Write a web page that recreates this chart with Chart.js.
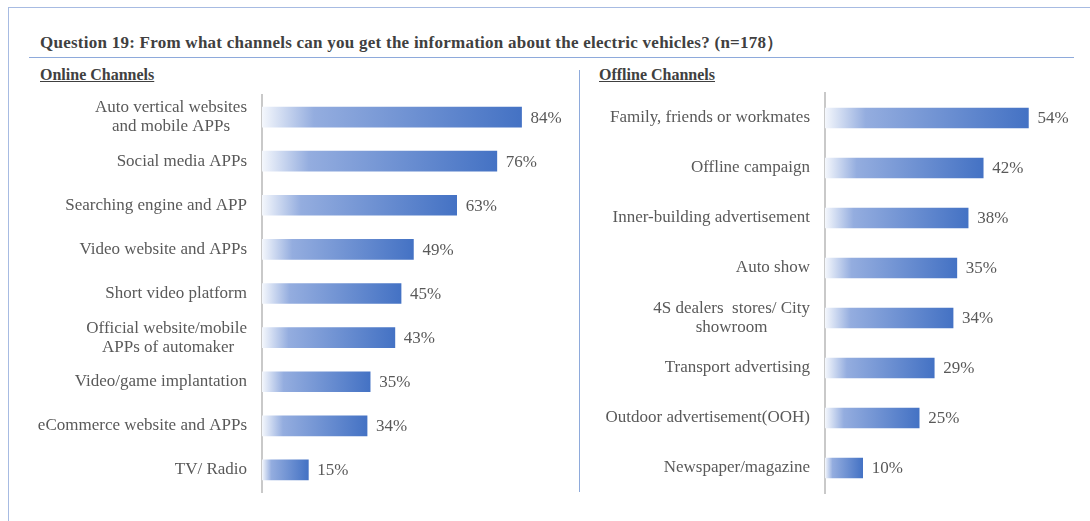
<!DOCTYPE html>
<html><head><meta charset="utf-8">
<script src="https://cdn.jsdelivr.net/npm/chart.js@4"></script>
<style>
body{margin:0;width:1090px;height:521px;background:#fff;position:relative;overflow:hidden;font-family:"Liberation Serif","Times New Roman",serif;}
#box{position:absolute;left:8px;top:7px;width:1100px;height:600px;border:1px solid #a7bbe2;}
#title{position:absolute;left:40px;top:33px;font-weight:bold;font-size:17px;line-height:20px;letter-spacing:0.25px;color:#404040;white-space:nowrap;}
#rule{position:absolute;left:29px;top:57px;width:1045px;height:0;border-top:1.5px solid #8eaadb;}
.sub{position:absolute;top:65px;font-weight:bold;font-size:16px;line-height:19px;color:#404040;text-decoration:underline;}
#sep{position:absolute;left:579px;top:70px;height:422px;border-left:1px solid #8eaadb;}
canvas{position:absolute;top:0;}
</style>
</head><body>
<div id="box"></div>
<div id="title">Question 19: From what channels can you get the information about the electric vehicles? (n=178）</div>
<div id="rule"></div>
<div class="sub" style="left:40px">Online Channels</div>
<div class="sub" style="left:599px">Offline Channels</div>
<div id="sep"></div>
<canvas id="c1" width="580" height="521" style="left:0;width:580px;height:521px"></canvas>
<canvas id="c2" width="510" height="521" style="left:580px;width:510px;height:521px"></canvas>
<script>
const onlineLabels = [
  ['Auto vertical websites', 'and mobile APPs    '],
  'Social media APPs',
  'Searching engine and APP',
  'Video website and APPs',
  'Short video platform',
  ['Official website/mobile', 'APPs of automaker   '],
  'Video/game implantation',
  'eCommerce website and APPs',
  'TV/ Radio'
];
const onlineValues = [84, 76, 63, 49, 45, 43, 35, 34, 15];

const offlineLabels = [
  'Family, friends or workmates',
  'Offline campaign',
  'Inner-building advertisement',
  'Auto show',
  ['4S dealers  stores/ City', 'showroom          '],
  'Transport advertising',
  'Outdoor advertisement(OOH)',
  'Newspaper/magazine'
];
const offlineValues = [54, 42, 38, 35, 34, 29, 25, 10];

function barGradient(ctx) {
  const chart = ctx.chart;
  if (!chart.chartArea || ctx.type !== 'data') return '#4472c4';
  const xs = chart.scales.x;
  const x0 = xs.getPixelForValue(0);
  const x1 = xs.getPixelForValue(ctx.raw);
  const g = chart.ctx.createLinearGradient(x0, 0, x1, 0);
  g.addColorStop(0, '#f4f7fc');
  g.addColorStop(0.2, '#94addf');
  g.addColorStop(1, '#4472c4');
  return g;
}

const valueLabels = {
  id: 'valueLabels',
  afterDatasetsDraw(chart) {
    const ctx = chart.ctx;
    const meta = chart.getDatasetMeta(0);
    const vals = chart.data.datasets[0].data;
    ctx.save();
    ctx.font = '17px "Liberation Serif"';
    ctx.fillStyle = '#595959';
    ctx.textBaseline = 'middle';
    ctx.textAlign = 'left';
    meta.data.forEach((el, i) => {
      ctx.fillText(vals[i] + '%', el.x + 9, el.y + 1);
    });
    ctx.restore();
  }
};

function makeChart(id, labels, values, axisWidth, xMax, pad) {
  return new Chart(document.getElementById(id), {
    type: 'bar',
    data: { labels: labels, datasets: [{ data: values, backgroundColor: barGradient, barThickness: 20, borderWidth: 0 }] },
    options: {
      indexAxis: 'y',
      responsive: false,
      animation: false,
      events: [],
      layout: { padding: pad },
      plugins: { legend: { display: false }, tooltip: { enabled: false } },
      scales: {
        x: { display: false, min: 0, max: xMax },
        y: {
          grid: { display: false },
          border: { display: true, color: '#c9c9c9', width: 2 },
          ticks: { padding: 7, color: '#595959', font: { family: 'Liberation Serif', size: 17, lineHeight: 1.12 } },
          afterFit(s) { s.width = axisWidth; }
        }
      }
    },
    plugins: [valueLabels]
  });
}

makeChart('c1', onlineLabels, onlineValues, 262, 100, { top: 95, bottom: 29, left: 0, right: 9 });
makeChart('c2', offlineLabels, offlineValues, 245, 60, { top: 93, bottom: 28, left: 0, right: 39 });
</script>
</body></html>
